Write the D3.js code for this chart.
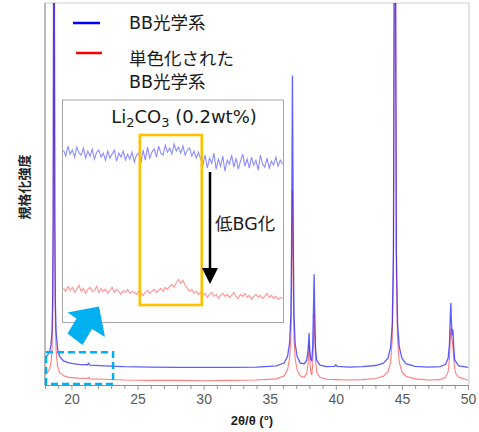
<!DOCTYPE html>
<html>
<head>
<meta charset="utf-8">
<script src="https://cdn.jsdelivr.net/npm/d3@7"></script>
<style>
  body { margin: 0; background: #fff; }
  svg { display: block; }
</style>
</head>
<body>
<div id="chart"></div>
<script>
// 2theta (deg), normalized intensity (%)
const blueSeries = [
  [18.0, 7.2], [18.2, 7.8], [18.35, 8.8], [18.45, 10.5], [18.53, 14], [18.58, 22], [18.62, 45],
  [18.65, 110], [18.68, 300], [18.71, 110], [18.74, 45], [18.78, 22], [18.84, 14], [18.95, 9.5],
  [19.1, 7.5], [19.4, 6.3], [19.8, 5.8], [20.5, 5.4], [21.2, 5.3], [21.3, 5.7], [21.4, 5.2],
  [22.5, 5.0], [24, 4.8], [26, 4.7], [28, 4.6], [30, 4.6], [32, 4.6], [34, 4.7], [35.5, 5.0],
  [36.1, 5.8], [36.35, 7.5], [36.5, 11], [36.6, 18], [36.65, 35], [36.69, 60], [36.72, 81],
  [36.75, 60], [36.79, 35], [36.84, 18], [36.92, 11], [37.07, 7.5], [37.3, 5.8], [37.6, 5.5],
  [37.8, 6.5], [37.9, 9], [37.95, 12], [37.98, 13.6], [38.02, 9.5], [38.1, 6.8], [38.18, 6.2],
  [38.25, 10], [38.31, 20], [38.36, 29], [38.4, 20], [38.46, 10], [38.55, 6.5], [38.8, 5.2],
  [39.3, 4.8], [39.9, 4.9], [40.0, 5.3], [40.1, 4.9], [41, 4.7], [42, 4.8], [43, 5.1],
  [43.6, 5.7], [43.95, 7], [44.15, 10], [44.27, 16], [44.36, 35], [44.42, 110], [44.47, 300],
  [44.52, 110], [44.58, 35], [44.67, 16], [44.8, 10], [45.0, 7], [45.3, 5.6], [46, 4.9],
  [47, 4.7], [47.9, 4.8], [48.3, 5.4], [48.5, 7], [48.6, 11], [48.66, 18], [48.7, 21.5],
  [48.75, 16], [48.8, 13], [48.86, 14.5], [48.92, 10], [49.0, 6.5], [49.3, 5.0], [50, 4.6]
];
const redSeries = [
  [18.0, 3.1], [18.2, 3.4], [18.35, 4.2], [18.45, 5.8], [18.53, 9], [18.58, 17], [18.62, 40],
  [18.65, 105], [18.68, 300], [18.71, 105], [18.74, 40], [18.78, 17], [18.84, 9], [18.95, 5],
  [19.1, 3.3], [19.4, 2.4], [19.8, 2.0], [20.5, 1.8], [21.2, 1.7], [21.3, 2.0], [21.4, 1.6],
  [22.5, 1.5], [24, 1.3], [26, 1.2], [28, 1.2], [30, 1.1], [32, 1.2], [34, 1.3], [35.5, 1.6],
  [36.1, 2.4], [36.35, 4], [36.5, 7], [36.6, 12], [36.65, 24], [36.69, 40], [36.72, 51],
  [36.75, 40], [36.79, 24], [36.84, 12], [36.92, 7], [37.07, 4], [37.3, 2.4], [37.6, 2.0],
  [37.8, 3.0], [37.9, 5.5], [37.95, 8.5], [37.99, 10.5], [38.03, 7], [38.1, 3.5], [38.18, 2.6],
  [38.25, 5], [38.31, 11], [38.37, 18.8], [38.42, 12], [38.48, 6], [38.57, 3.2], [38.8, 2.0],
  [39.3, 1.5], [40, 1.4], [41, 1.3], [42, 1.4], [43, 1.7], [43.6, 2.3], [43.95, 3.5],
  [44.15, 6], [44.27, 12], [44.36, 30], [44.42, 105], [44.47, 300], [44.52, 105], [44.58, 30],
  [44.67, 12], [44.8, 6], [45.0, 3.5], [45.3, 2.3], [46, 1.6], [47, 1.3], [47.9, 1.4],
  [48.3, 2.0], [48.5, 3.5], [48.6, 7], [48.66, 12], [48.71, 15], [48.76, 12.5], [48.82, 11.5],
  [48.88, 9], [48.95, 5.5], [49.05, 3.2], [49.3, 2.0], [50, 1.3]
];
// inset zoom of 18-23 deg region (arbitrary counts)
const insetBlue = [
  172, 166, 176, 168, 172, 165, 175, 169, 167, 174, 164, 171, 166, 173, 163, 170, 172, 165, 169, 162,
  171, 164, 168, 172, 161, 169, 165, 171, 162, 168, 163, 170, 160, 167, 169,
  159, 172, 162, 175, 164, 170, 173, 165, 176, 169, 167, 177, 170, 174, 168, 178, 171, 175, 169, 176,
  167, 172, 174, 166, 171, 164, 170, 163,
  157, 167, 154, 164, 159, 169, 153, 163, 156, 166, 151, 162, 158, 167, 155, 164, 153, 161, 168, 156,
  163, 154, 165, 157, 162, 152, 167, 158, 155, 164, 154, 161, 157, 165, 156, 162, 158
];
const insetRed = [
  34, 31, 36, 32, 35, 30, 33, 37, 31, 34, 29, 33, 35, 31, 32, 36, 30, 34, 31, 33,
  29, 32, 35, 30, 33, 31, 28, 32, 30, 33, 29, 31, 30, 28, 31,
  29, 27, 30, 32, 29, 31, 33, 30, 32, 34, 31, 35, 33, 36, 38, 35, 40, 43, 39, 42,
  37, 34, 31, 33, 29, 31, 28, 30,
  27, 29, 25, 28, 30, 26, 28, 24, 27, 29, 26, 28, 25, 27, 30, 26, 24, 28, 26, 29,
  25, 27, 23, 26, 28, 25, 27, 24, 26, 29, 25, 27, 24, 26, 23, 25, 24
];
const xMajorTicks = [20, 25, 30, 35, 40, 45, 50];
const legendLabels = [["BB光学系"], ["単色化された", "BB光学系"]];
const seriesColors = ["#1a1aff", "#ff2a2a"];
const insetTitle = { main: "Li", sub1: "2", mid: "CO", sub2: "3", tail: " (0.2wt%)" };
const arrowLabel = "低BG化";
const xTitle = "2θ/θ (°)";
const yTitle = "規格化強度";

const W = 479, H = 432;
const dim = { left: 45, right: 469, top: 3, bottom: 385 };
const latin = "'DejaVu Sans', 'Noto Sans CJK JP', sans-serif";

const svg = d3.select("#chart").append("svg").attr("width", W).attr("height", H);

const x = d3.scaleLinear().domain([18, 50]).range([dim.left, 468]);
const y = d3.scaleLinear().domain([0, 100]).range([dim.bottom, dim.top]);

// frame
svg.append("path")
  .attr("d", `M${dim.left},${dim.top}H${dim.right}V${dim.bottom}`)
  .attr("fill", "none").attr("stroke", "#d0d0d0").attr("stroke-width", 1.2);

svg.append("clipPath").attr("id", "plotclip")
  .append("rect").attr("x", dim.left).attr("y", dim.top)
  .attr("width", dim.right - dim.left).attr("height", dim.bottom - dim.top);

const line = d3.line().x(d => x(d[0])).y(d => y(d[1]));
const plot = svg.append("g").attr("clip-path", "url(#plotclip)");
plot.append("path").datum(redSeries).attr("d", line)
  .attr("fill", "none").attr("stroke", seriesColors[1]).attr("stroke-opacity", 0.6).attr("stroke-width", 1.1);
plot.append("path").datum(blueSeries).attr("d", line)
  .attr("fill", "none").attr("stroke", seriesColors[0]).attr("stroke-opacity", 0.7).attr("stroke-width", 1.3);

// axes
const minorTicks = d3.range(18, 51, 1).filter(v => xMajorTicks.indexOf(v) < 0);
svg.append("g").attr("transform", `translate(0,${dim.bottom})`)
  .call(d3.axisBottom(x).tickValues(minorTicks).tickSize(4).tickSizeOuter(0).tickFormat(""))
  .call(g => g.select(".domain").remove())
  .call(g => g.selectAll("line").attr("stroke", "#999"));
const xAxis = svg.append("g").attr("transform", `translate(0,${dim.bottom})`)
  .call(d3.axisBottom(x).tickValues(xMajorTicks).tickSize(5).tickSizeOuter(0).tickPadding(4));
xAxis.select(".domain").attr("stroke", "#8c8c8c").attr("d", `M${dim.left},0.5H${dim.right}`);
xAxis.selectAll("line").attr("stroke", "#999");
xAxis.selectAll("text").attr("fill", "#595959")
  .style("font-family", "'Liberation Sans', Arial, sans-serif").style("font-size", "14px");

svg.append("line").attr("x1", dim.left).attr("x2", dim.left)
  .attr("y1", dim.top).attr("y2", dim.bottom + 0.5)
  .attr("stroke", "#8c8c8c").attr("stroke-width", 1.2);

svg.append("text").attr("text-anchor", "middle")
  .attr("x", 252).attr("y", 425)
  .style("font-family", "'Liberation Sans', Arial, sans-serif")
  .style("font-size", "13px").style("font-weight", "bold").attr("fill", "#222")
  .text(xTitle);

svg.append("text").attr("text-anchor", "middle")
  .attr("transform", "translate(29,187) rotate(-90)")
  .style("font-family", "'Noto Sans CJK JP', sans-serif")
  .style("font-size", "13px").style("font-weight", "bold").attr("fill", "#222")
  .text(yTitle);

// dashed region marker (18 - 23.2 deg)
svg.append("rect")
  .attr("x", x(18) + 1).attr("y", y(8.6))
  .attr("width", x(23.15) - x(18) - 1).attr("height", y(0.25) - y(8.6))
  .attr("fill", "none").attr("stroke", "#00b0f0").attr("stroke-width", 2.5)
  .attr("stroke-dasharray", "7,4");

// inset
const inset = { left: 62.5, right: 283.5, top: 100, bottom: 322.5 };
svg.append("rect")
  .attr("x", inset.left).attr("y", inset.top)
  .attr("width", inset.right - inset.left).attr("height", inset.bottom - inset.top)
  .attr("fill", "#fff").attr("stroke", "#a6a6a6").attr("stroke-width", 1);

const xi = d3.scaleLinear().domain([0, insetBlue.length - 1]).range([inset.left + 1, inset.right - 1]);
const yi = d3.scaleLinear().domain([0, 222]).range([inset.bottom, inset.top]);
const insetLine = d3.line().x((d, i) => xi(i)).y(d => yi(d));
svg.append("path").datum(insetBlue).attr("d", insetLine)
  .attr("fill", "none").attr("stroke", seriesColors[0]).attr("stroke-opacity", 0.5).attr("stroke-width", 1.1);
svg.append("path").datum(insetRed).attr("d", insetLine)
  .attr("fill", "none").attr("stroke", seriesColors[1]).attr("stroke-opacity", 0.5).attr("stroke-width", 1.1);

const title = svg.append("text").attr("text-anchor", "middle")
  .attr("x", 184).attr("y", 123)
  .style("font-family", latin).style("font-size", "18px").attr("fill", "#1a1a1a");
title.append("tspan").text(insetTitle.main);
title.append("tspan").attr("dy", 4).style("font-size", "13px").text(insetTitle.sub1);
title.append("tspan").attr("dy", -4).text(insetTitle.mid);
title.append("tspan").attr("dy", 4).style("font-size", "13px").text(insetTitle.sub2);
title.append("tspan").attr("dy", -4).text(insetTitle.tail);

svg.append("rect")
  .attr("x", xi(34.5)).attr("y", 135)
  .attr("width", xi(62.5) - xi(34.5)).attr("height", 170)
  .attr("fill", "none").attr("stroke", "#ffc000").attr("stroke-width", 2.6);

svg.append("line").attr("x1", 210).attr("x2", 210).attr("y1", 172).attr("y2", 270)
  .attr("stroke", "#000").attr("stroke-width", 2.5);
svg.append("path").attr("d", "M202,268 L218,268 L210,284 Z").attr("fill", "#000");

svg.append("text").attr("x", 215).attr("y", 230)
  .style("font-family", latin).style("font-size", "17.5px").attr("fill", "#1a1a1a")
  .text(arrowLabel);

// big cyan arrow, drawn over the inset border
svg.append("path")
  .attr("d", "M99,306.5 L67.5,312.5 L76.5,318.5 L67.5,333.5 L82.5,345 L92,329 L105,337 Z")
  .attr("fill", "#00b0f0");

// legend
const legend = svg.append("g");
legendLabels.forEach((lines, i) => {
  const ly = 23 + i * 30;
  legend.append("line").attr("x1", 73 + i * 3).attr("x2", 100 + i * 2)
    .attr("y1", ly).attr("y2", ly)
    .attr("stroke", i === 0 ? "#0000ff" : "#ff0000").attr("stroke-width", 2.5);
  lines.forEach((t, j) => {
    legend.append("text").attr("x", 129).attr("y", 29 + i * 36 + j * 23)
      .style("font-family", latin).style("font-size", "17.5px").attr("fill", "#1a1a1a")
      .text(t);
  });
});
</script>
</body>
</html>
